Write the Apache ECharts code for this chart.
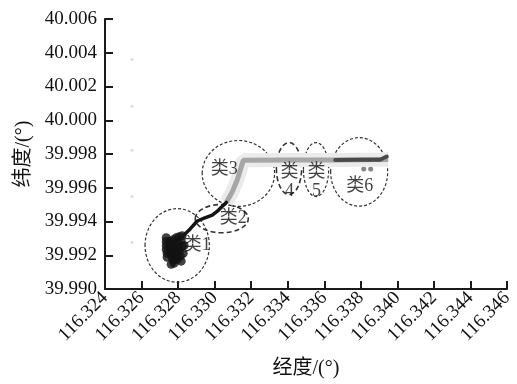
<!DOCTYPE html>
<html>
<head>
<meta charset="utf-8">
<script src="https://cdn.jsdelivr.net/npm/echarts@6/dist/echarts.min.js"></script>
<style>
  html, body { margin: 0; padding: 0; background: #fff; }
  #chart { width: 517px; height: 384px; }
</style>
</head>
<body>
<div id="chart"></div>
<script>
const SERIF = "'Liberation Serif', 'Times New Roman', 'Noto Sans CJK SC', serif";

// 类1: dense black cluster of fixes
const cluster1 = [
  [116.32735, 39.99304], [116.32735, 39.99281], [116.32735, 39.99258], [116.32735, 39.99234],
  [116.32740, 39.99211], [116.32740, 39.99188], [116.32757, 39.99281], [116.32773, 39.99292],
  [116.32790, 39.99304], [116.32806, 39.99310], [116.32822, 39.99316], [116.32757, 39.99258],
  [116.32779, 39.99263], [116.32801, 39.99275], [116.32817, 39.99287], [116.32757, 39.99234],
  [116.32779, 39.99240], [116.32801, 39.99246], [116.32822, 39.99252], [116.32762, 39.99211],
  [116.32784, 39.99217], [116.32806, 39.99223], [116.32768, 39.99188], [116.32790, 39.99194],
  [116.32812, 39.99194], [116.32773, 39.99170], [116.32795, 39.99176], [116.32817, 39.99165],
  [116.32762, 39.99147], [116.32779, 39.99153], [116.32828, 39.99211], [116.32833, 39.99258]
];

// black track from 类1 through 类2
const trackDark = [
  [116.32828, 39.99316], [116.32866, 39.99356], [116.32905, 39.99403], [116.32943, 39.99420],
  [116.32987, 39.99438], [116.33015, 39.99461], [116.33042, 39.99490], [116.33064, 39.99513]
];

// grey track through 类3, 类4, 类5
const trackGrey = [
  [116.33064, 39.99513], [116.33097, 39.99577], [116.33124, 39.99647], [116.33157, 39.99763],
  [116.33400, 39.99765], [116.33651, 39.99765], [116.33950, 39.99768]
];

// darker track inside 类6
const track6 = [
  [116.33660, 39.99765], [116.33800, 39.99766], [116.33905, 39.99766], [116.33942, 39.99785]
];

const outliers6 = [[116.33816, 39.99711], [116.33854, 39.99711]];

// faint stray marks near the left edge
const strayPoints = [
  [116.32548, 40.00362], [116.32548, 40.00083], [116.32548, 39.99822],
  [116.32548, 39.99548], [116.32548, 39.99275]
];

// cluster ellipses: centre lon/lat, half-width and half-height in degrees
const ellipseCentres = [
  [116.32795, 39.99258], [116.33039, 39.99417], [116.33130, 39.99685],
  [116.33407, 39.99714], [116.33555, 39.99708], [116.33791, 39.99694]
];
const ellipseRadii = [
  [0.00176, 0.00218], [0.00145, 0.00084], [0.00198, 0.00195],
  [0.00069, 0.00154], [0.00069, 0.00160], [0.00156, 0.00203]
];
const heavyDash = [false, true, false, true, false, false];

const labelTexts = ["类1", "类2", "类3", "类\n4", "类\n5", "类6"];
const labelPositions = [
  [116.32905, 39.99258], [116.33102, 39.99420], [116.33053, 39.99711],
  [116.33410, 39.99636], [116.33558, 39.99636], [116.33794, 39.99606]
];

const xTicks = { min: 116.324, max: 116.346, step: 0.002 };
const yTicks = { min: 39.990, max: 40.006, step: 0.002 };

const chart = echarts.init(document.getElementById("chart"), null, { renderer: "canvas" });

const axisCommon = {
  axisLine: { lineStyle: { color: "#1a1a1a", width: 2 } },
  axisTick: { inside: true, length: 8, lineStyle: { color: "#1a1a1a", width: 2 } },
  splitLine: { show: false },
  nameLocation: "middle",
  nameTextStyle: { fontFamily: SERIF, fontSize: 20, color: "#111" }
};

chart.setOption({
  animation: false,
  backgroundColor: "#fff",
  grid: { left: 105, right: 10, top: 19, bottom: 90 },
  xAxis: Object.assign({}, axisCommon, {
    type: "value",
    min: xTicks.min,
    max: xTicks.max,
    interval: xTicks.step,
    name: "经度/(°)",
    nameGap: 70,
    axisLabel: {
      rotate: 45,
      margin: 6,
      fontFamily: SERIF,
      fontSize: 19,
      color: "#111",
      formatter: (v) => v.toFixed(3)
    }
  }),
  yAxis: Object.assign({}, axisCommon, {
    type: "value",
    min: yTicks.min,
    max: yTicks.max,
    interval: yTicks.step,
    name: "纬度/(°)",
    nameGap: 70,
    axisLabel: {
      margin: 8,
      fontFamily: SERIF,
      fontSize: 19,
      color: "#111",
      formatter: (v) => v.toFixed(3)
    }
  }),
  series: [
    {
      type: "scatter",
      data: strayPoints,
      symbolSize: 3,
      itemStyle: { color: "#d4d4d4" },
      silent: true
    },
    {
      type: "line",
      data: trackGrey,
      showSymbol: false,
      lineStyle: { color: "#ebebeb", width: 14 },
      silent: true
    },
    {
      type: "line",
      data: trackGrey,
      showSymbol: false,
      lineStyle: { color: "#a6a6a6", width: 5 },
      silent: true
    },
    {
      type: "line",
      data: track6,
      showSymbol: false,
      lineStyle: { color: "#4a4a4a", width: 4, cap: "round" },
      silent: true
    },
    {
      type: "scatter",
      data: outliers6,
      symbolSize: 5,
      itemStyle: { color: "#666" },
      silent: true
    },
    {
      type: "line",
      data: trackDark,
      showSymbol: false,
      lineStyle: { color: "#141414", width: 3.5, cap: "round", join: "round" },
      silent: true
    },
    {
      type: "scatter",
      data: cluster1,
      symbolSize: 9,
      itemStyle: { color: "#111" },
      silent: true
    },
    {
      type: "custom",
      silent: true,
      data: ellipseCentres.map((c, i) => [c[0], c[1], ellipseRadii[i][0], ellipseRadii[i][1], heavyDash[i] ? 1 : 0]),
      renderItem: (params, api) => {
        const c = api.coord([api.value(0), api.value(1)]);
        const s = api.size([api.value(2), api.value(3)]);
        const heavy = api.value(4) === 1;
        return {
          type: "ellipse",
          shape: { cx: c[0], cy: c[1], rx: s[0], ry: s[1] },
          style: {
            fill: null,
            stroke: "#333",
            lineWidth: heavy ? 1.6 : 1.2,
            lineDash: heavy ? [5, 3] : [3, 2]
          }
        };
      }
    },
    {
      type: "scatter",
      data: labelPositions.map((p, i) => ({ value: p, name: labelTexts[i] })),
      symbolSize: 0,
      silent: true,
      z: 10,
      label: {
        show: true,
        position: "inside",
        formatter: (p) => p.name,
        fontFamily: SERIF,
        fontSize: 18,
        lineHeight: 19,
        color: "#111"
      }
    }
  ]
});
</script>
</body>
</html>
